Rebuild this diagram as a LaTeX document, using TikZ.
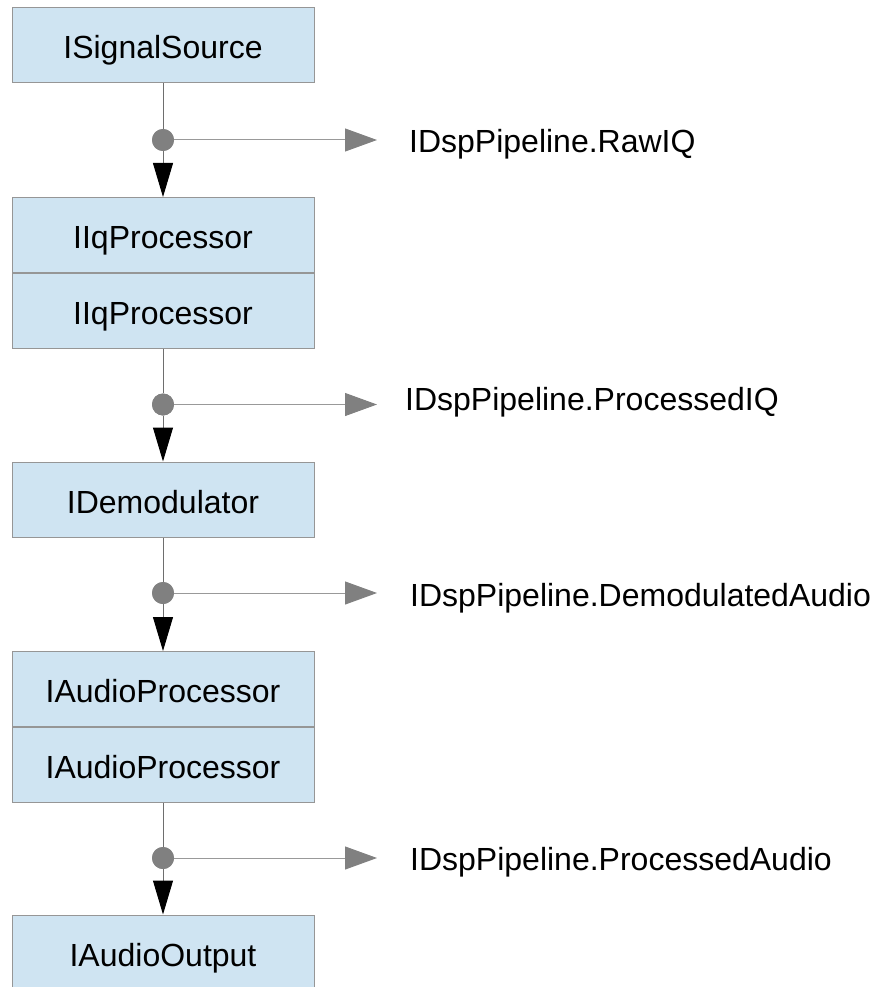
\documentclass[tikz,border=0pt]{standalone}
\usepackage{fontspec}
\setmainfont{Liberation Sans}
\usetikzlibrary{arrows.meta}
\definecolor{boxfill}{RGB}{207,228,242}
\definecolor{boxline}{RGB}{150,150,150}
\definecolor{dotgray}{RGB}{128,128,128}
\definecolor{linegray}{RGB}{110,110,110}
\tikzset{
  stage/.style={draw=boxline, fill=boxfill, line width=1pt, minimum width=302pt, minimum height=75pt, inner sep=0pt, text height=31pt, text depth=4pt, font=\fontsize{32}{36}\selectfont},
  tap/.style={circle, fill=dotgray, inner sep=0pt, minimum size=22pt},
  flow/.style={draw=linegray, line width=1pt, -{Triangle[length=34pt,width=20pt,fill=black,color=black]}},
  plain/.style={draw=linegray, line width=1pt},
  side/.style={draw=dotgray!80, line width=1pt, -{Triangle[length=32pt,width=23pt,fill=dotgray,color=dotgray]}},
  lbl/.style={anchor=base west, inner sep=0pt, font=\fontsize{32}{36}\selectfont}
}
\begin{document}
\begin{tikzpicture}[x=1pt,y=-1pt]
\useasboundingbox (0,0) rectangle (872,987);
\clip (0,0) rectangle (872,987);
% stages
\node[stage] (s1) at (163,45.5) {ISignalSource};
\node[stage] (s2a) at (163,235) {IIqProcessor};
\node[stage] (s2b) at (163,310.5) {IIqProcessor};
\node[stage] (s3) at (163,499.5) {IDemodulator};
\node[stage] (s4a) at (163,689) {IAudioProcessor};
\node[stage] (s4b) at (163,764.5) {IAudioProcessor};
\node[stage] (s5) at (163,952.5) {IAudioOutput};
% taps
\node[tap] (d1) at (163,140) {};
\node[tap] (d2) at (163,404.5) {};
\node[tap] (d3) at (163,593) {};
\node[tap] (d4) at (163,858) {};
% side coordinates and labels
\coordinate (e1) at (377,140);
\coordinate (e2) at (377,404.5);
\coordinate (e3) at (377,593);
\coordinate (e4) at (377,858);
\node[lbl] (l1) at (409,153) {IDspPipeline.RawIQ};
\node[lbl] (l2) at (405,410) {IDspPipeline.ProcessedIQ};
\node[lbl] (l3) at (410,606) {IDspPipeline.DemodulatedAudio};
\node[lbl] (l4) at (410,870) {IDspPipeline.ProcessedAudio};
% connectors
\draw[plain] (s1.south) -- (d1);
\draw[flow] (d1) -- (s2a.north);
\draw[plain] (s2b.south) -- (d2);
\draw[flow] (d2) -- (s3.north);
\draw[plain] (s3.south) -- (d3);
\draw[flow] (d3) -- (s4a.north);
\draw[plain] (s4b.south) -- (d4);
\draw[flow] (d4) -- (s5.north);
\draw[side] (d1) -- (e1);
\draw[side] (d2) -- (e2);
\draw[side] (d3) -- (e3);
\draw[side] (d4) -- (e4);
\node[tap] at (d1) {};
\node[tap] at (d2) {};
\node[tap] at (d3) {};
\node[tap] at (d4) {};
\end{tikzpicture}
\end{document}
